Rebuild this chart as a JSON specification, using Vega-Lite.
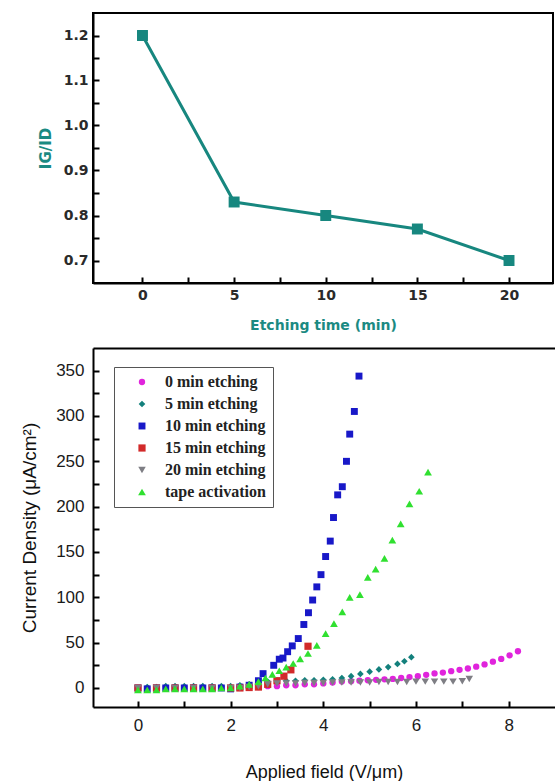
{
  "$schema": "https://vega.github.io/schema/vega-lite/v6.json",
  "padding": {"left": 20, "top": 12, "right": 0, "bottom": 0},
  "spacing": 15,
  "config": {
    "view": {"stroke": null},
    "axis": {"grid": false, "domainColor": "#000", "domainWidth": 2, "tickColor": "#000", "tickWidth": 2, "tickSize": -6, "labelColor": "#2a2a2a"},
    "legend": {"strokeColor": "#555"}
  },
  "datasets": {
    "ratio": [
      {"t": 0, "r": 1.2}, {"t": 5, "r": 0.83}, {"t": 10, "r": 0.8}, {"t": 15, "r": 0.77}, {"t": 20, "r": 0.7}
    ],
    "fe": [
      {"s": "0 min etching", "x": 0, "y": -1}, {"s": "0 min etching", "x": 0.2, "y": -1}, {"s": "0 min etching", "x": 0.4, "y": -1}, {"s": "0 min etching", "x": 0.6, "y": 0}, {"s": "0 min etching", "x": 0.8, "y": 0}, {"s": "0 min etching", "x": 1.0, "y": 0}, {"s": "0 min etching", "x": 1.2, "y": 0}, {"s": "0 min etching", "x": 1.4, "y": 0}, {"s": "0 min etching", "x": 1.6, "y": 0}, {"s": "0 min etching", "x": 1.8, "y": 0}, {"s": "0 min etching", "x": 2.0, "y": 0}, {"s": "0 min etching", "x": 2.2, "y": 1}, {"s": "0 min etching", "x": 2.4, "y": 1}, {"s": "0 min etching", "x": 2.6, "y": 1}, {"s": "0 min etching", "x": 2.8, "y": 2}, {"s": "0 min etching", "x": 3.0, "y": 2}, {"s": "0 min etching", "x": 3.2, "y": 3}, {"s": "0 min etching", "x": 3.4, "y": 3}, {"s": "0 min etching", "x": 3.6, "y": 4}, {"s": "0 min etching", "x": 3.8, "y": 4}, {"s": "0 min etching", "x": 4.0, "y": 5}, {"s": "0 min etching", "x": 4.2, "y": 6}, {"s": "0 min etching", "x": 4.4, "y": 7}, {"s": "0 min etching", "x": 4.6, "y": 7.5}, {"s": "0 min etching", "x": 4.78, "y": 8}, {"s": "0 min etching", "x": 4.96, "y": 8.5}, {"s": "0 min etching", "x": 5.14, "y": 9}, {"s": "0 min etching", "x": 5.32, "y": 9.5}, {"s": "0 min etching", "x": 5.5, "y": 10}, {"s": "0 min etching", "x": 5.68, "y": 11}, {"s": "0 min etching", "x": 5.86, "y": 12}, {"s": "0 min etching", "x": 6.04, "y": 13}, {"s": "0 min etching", "x": 6.22, "y": 14.5}, {"s": "0 min etching", "x": 6.4, "y": 16}, {"s": "0 min etching", "x": 6.58, "y": 17}, {"s": "0 min etching", "x": 6.76, "y": 18.5}, {"s": "0 min etching", "x": 6.94, "y": 20}, {"s": "0 min etching", "x": 7.12, "y": 21.5}, {"s": "0 min etching", "x": 7.3, "y": 23.5}, {"s": "0 min etching", "x": 7.48, "y": 26}, {"s": "0 min etching", "x": 7.66, "y": 29}, {"s": "0 min etching", "x": 7.84, "y": 32}, {"s": "0 min etching", "x": 8.02, "y": 36}, {"s": "0 min etching", "x": 8.2, "y": 40.5},

      {"s": "5 min etching", "x": 0, "y": 0}, {"s": "5 min etching", "x": 0.2, "y": 1}, {"s": "5 min etching", "x": 0.4, "y": 1}, {"s": "5 min etching", "x": 0.6, "y": 2}, {"s": "5 min etching", "x": 0.8, "y": 2}, {"s": "5 min etching", "x": 1.0, "y": 2}, {"s": "5 min etching", "x": 1.2, "y": 2}, {"s": "5 min etching", "x": 1.4, "y": 2}, {"s": "5 min etching", "x": 1.6, "y": 2}, {"s": "5 min etching", "x": 1.8, "y": 2}, {"s": "5 min etching", "x": 2.0, "y": 2}, {"s": "5 min etching", "x": 2.2, "y": 3}, {"s": "5 min etching", "x": 2.4, "y": 4}, {"s": "5 min etching", "x": 2.6, "y": 6}, {"s": "5 min etching", "x": 2.8, "y": 7}, {"s": "5 min etching", "x": 3.0, "y": 8}, {"s": "5 min etching", "x": 3.2, "y": 8}, {"s": "5 min etching", "x": 3.4, "y": 8}, {"s": "5 min etching", "x": 3.6, "y": 8.5}, {"s": "5 min etching", "x": 3.8, "y": 8.5}, {"s": "5 min etching", "x": 4.0, "y": 9}, {"s": "5 min etching", "x": 4.2, "y": 9.5}, {"s": "5 min etching", "x": 4.4, "y": 11}, {"s": "5 min etching", "x": 4.6, "y": 13}, {"s": "5 min etching", "x": 4.8, "y": 15.5}, {"s": "5 min etching", "x": 5.0, "y": 18}, {"s": "5 min etching", "x": 5.2, "y": 20.5}, {"s": "5 min etching", "x": 5.4, "y": 23}, {"s": "5 min etching", "x": 5.6, "y": 26.5}, {"s": "5 min etching", "x": 5.75, "y": 29.5}, {"s": "5 min etching", "x": 5.9, "y": 34},

      {"s": "10 min etching", "x": 0, "y": 0}, {"s": "10 min etching", "x": 0.2, "y": -1}, {"s": "10 min etching", "x": 0.4, "y": 0}, {"s": "10 min etching", "x": 0.6, "y": 0}, {"s": "10 min etching", "x": 0.8, "y": 0}, {"s": "10 min etching", "x": 1.0, "y": 0}, {"s": "10 min etching", "x": 1.2, "y": 0}, {"s": "10 min etching", "x": 1.4, "y": 0}, {"s": "10 min etching", "x": 1.6, "y": 0}, {"s": "10 min etching", "x": 1.8, "y": 0}, {"s": "10 min etching", "x": 2.0, "y": -1}, {"s": "10 min etching", "x": 2.2, "y": 1}, {"s": "10 min etching", "x": 2.4, "y": 3}, {"s": "10 min etching", "x": 2.6, "y": 8}, {"s": "10 min etching", "x": 2.7, "y": 15.8}, {"s": "10 min etching", "x": 2.93, "y": 25}, {"s": "10 min etching", "x": 3.05, "y": 31.7}, {"s": "10 min etching", "x": 3.13, "y": 33}, {"s": "10 min etching", "x": 3.23, "y": 40}, {"s": "10 min etching", "x": 3.33, "y": 46.4}, {"s": "10 min etching", "x": 3.46, "y": 54.5}, {"s": "10 min etching", "x": 3.58, "y": 70}, {"s": "10 min etching", "x": 3.68, "y": 83}, {"s": "10 min etching", "x": 3.77, "y": 97}, {"s": "10 min etching", "x": 3.86, "y": 111.5}, {"s": "10 min etching", "x": 3.95, "y": 125}, {"s": "10 min etching", "x": 4.05, "y": 145}, {"s": "10 min etching", "x": 4.15, "y": 162}, {"s": "10 min etching", "x": 4.22, "y": 188}, {"s": "10 min etching", "x": 4.31, "y": 213}, {"s": "10 min etching", "x": 4.41, "y": 222}, {"s": "10 min etching", "x": 4.5, "y": 250}, {"s": "10 min etching", "x": 4.57, "y": 280}, {"s": "10 min etching", "x": 4.67, "y": 305}, {"s": "10 min etching", "x": 4.77, "y": 344},

      {"s": "15 min etching", "x": 0, "y": 0}, {"s": "15 min etching", "x": 0.4, "y": 0}, {"s": "15 min etching", "x": 0.8, "y": 0}, {"s": "15 min etching", "x": 1.2, "y": 0}, {"s": "15 min etching", "x": 1.6, "y": 0}, {"s": "15 min etching", "x": 2.0, "y": 0}, {"s": "15 min etching", "x": 2.2, "y": 0}, {"s": "15 min etching", "x": 2.4, "y": 0.5}, {"s": "15 min etching", "x": 2.6, "y": 1}, {"s": "15 min etching", "x": 2.8, "y": 4}, {"s": "15 min etching", "x": 3.0, "y": 8}, {"s": "15 min etching", "x": 3.15, "y": 13}, {"s": "15 min etching", "x": 3.3, "y": 20}, {"s": "15 min etching", "x": 3.67, "y": 46},

      {"s": "20 min etching", "x": 0, "y": 0}, {"s": "20 min etching", "x": 0.4, "y": 0}, {"s": "20 min etching", "x": 0.8, "y": 0}, {"s": "20 min etching", "x": 1.2, "y": 0}, {"s": "20 min etching", "x": 1.6, "y": 0}, {"s": "20 min etching", "x": 2.0, "y": 0}, {"s": "20 min etching", "x": 2.2, "y": 0}, {"s": "20 min etching", "x": 2.4, "y": 1}, {"s": "20 min etching", "x": 2.6, "y": 2}, {"s": "20 min etching", "x": 2.8, "y": 4}, {"s": "20 min etching", "x": 3.0, "y": 5}, {"s": "20 min etching", "x": 3.2, "y": 5}, {"s": "20 min etching", "x": 3.4, "y": 5}, {"s": "20 min etching", "x": 3.6, "y": 5.5}, {"s": "20 min etching", "x": 3.8, "y": 5.5}, {"s": "20 min etching", "x": 4.0, "y": 5.5}, {"s": "20 min etching", "x": 4.2, "y": 6}, {"s": "20 min etching", "x": 4.4, "y": 6}, {"s": "20 min etching", "x": 4.6, "y": 6}, {"s": "20 min etching", "x": 4.8, "y": 6}, {"s": "20 min etching", "x": 5.0, "y": 6}, {"s": "20 min etching", "x": 5.2, "y": 6.5}, {"s": "20 min etching", "x": 5.4, "y": 6.5}, {"s": "20 min etching", "x": 5.6, "y": 6.5}, {"s": "20 min etching", "x": 5.8, "y": 6.5}, {"s": "20 min etching", "x": 6.0, "y": 7}, {"s": "20 min etching", "x": 6.2, "y": 7}, {"s": "20 min etching", "x": 6.4, "y": 7}, {"s": "20 min etching", "x": 6.6, "y": 7}, {"s": "20 min etching", "x": 6.8, "y": 7}, {"s": "20 min etching", "x": 7.0, "y": 7.5}, {"s": "20 min etching", "x": 7.15, "y": 10},

      {"s": "tape activation", "x": 0, "y": -2}, {"s": "tape activation", "x": 0.2, "y": -2}, {"s": "tape activation", "x": 0.4, "y": -2}, {"s": "tape activation", "x": 0.6, "y": -1}, {"s": "tape activation", "x": 0.8, "y": -1}, {"s": "tape activation", "x": 1.0, "y": -1}, {"s": "tape activation", "x": 1.2, "y": -1}, {"s": "tape activation", "x": 1.4, "y": -1}, {"s": "tape activation", "x": 1.6, "y": -1}, {"s": "tape activation", "x": 1.8, "y": 0}, {"s": "tape activation", "x": 2.0, "y": 0}, {"s": "tape activation", "x": 2.2, "y": 2}, {"s": "tape activation", "x": 2.4, "y": 4}, {"s": "tape activation", "x": 2.6, "y": 7}, {"s": "tape activation", "x": 2.75, "y": 11}, {"s": "tape activation", "x": 2.9, "y": 15}, {"s": "tape activation", "x": 3.05, "y": 19}, {"s": "tape activation", "x": 3.2, "y": 23}, {"s": "tape activation", "x": 3.35, "y": 27}, {"s": "tape activation", "x": 3.5, "y": 32}, {"s": "tape activation", "x": 3.67, "y": 38}, {"s": "tape activation", "x": 3.86, "y": 47}, {"s": "tape activation", "x": 4.05, "y": 60}, {"s": "tape activation", "x": 4.23, "y": 71}, {"s": "tape activation", "x": 4.41, "y": 84}, {"s": "tape activation", "x": 4.57, "y": 100}, {"s": "tape activation", "x": 4.79, "y": 103}, {"s": "tape activation", "x": 4.96, "y": 122}, {"s": "tape activation", "x": 5.13, "y": 131}, {"s": "tape activation", "x": 5.32, "y": 143}, {"s": "tape activation", "x": 5.49, "y": 163}, {"s": "tape activation", "x": 5.67, "y": 181}, {"s": "tape activation", "x": 5.86, "y": 203}, {"s": "tape activation", "x": 6.07, "y": 217}, {"s": "tape activation", "x": 6.26, "y": 238}
    ]
  },
  "vconcat": [
    {
      "width": 460,
      "height": 270,
      "view": {"stroke": "#000", "strokeWidth": 2},
      "data": {"name": "ratio"},
      "encoding": {
        "x": {"field": "t", "type": "quantitative", "scale": {"domain": [-2.7, 22.4], "nice": false, "zero": false},
          "axis": {"title": "Etching time (min)", "values": [0, 2.5, 5, 7.5, 10, 12.5, 15, 17.5, 20],
            "labelExpr": "datum.value % 5 === 0 ? datum.label : ''",
            "labelFont": "DejaVu Sans", "labelFontWeight": "bold", "labelFontSize": 14, "labelPadding": 11,
            "titleFont": "DejaVu Sans", "titleFontWeight": "bold", "titleFontSize": 14, "titleColor": "#1b8a82", "titlePadding": 16}},
        "y": {"field": "r", "type": "quantitative", "scale": {"domain": [0.65, 1.25], "nice": false, "zero": false},
          "axis": {"title": "IG/ID", "values": [0.7, 0.75, 0.8, 0.85, 0.9, 0.95, 1.0, 1.05, 1.1, 1.15, 1.2],
            "labelExpr": "abs(datum.value * 10 - round(datum.value * 10)) < 0.001 ? format(datum.value, '.1f') : ''",
            "labelFont": "DejaVu Sans", "labelFontWeight": "bold", "labelFontSize": 14, "labelPadding": 11,
            "titleFont": "DejaVu Sans", "titleFontWeight": "bold", "titleFontSize": 15, "titleColor": "#1b8a82", "titlePadding": 10}}
      },
      "layer": [
        {"mark": {"type": "line", "color": "#17877f", "strokeWidth": 3}},
        {"mark": {"type": "point", "shape": "square", "filled": true, "size": 120, "color": "#17877f", "opacity": 1}}
      ]
    },
    {
      "width": 462,
      "height": 359,
      "data": {"name": "fe"},
      "layer": [
        {
          "mark": {"type": "point", "filled": true, "opacity": 0},
          "encoding": {
            "x": {"field": "x", "type": "quantitative", "scale": {"domain": [-0.97, 9], "nice": false, "zero": false},
              "axis": {"orient": "top", "labels": false, "ticks": false, "title": null, "domain": true}}
          }
        },
        {
          "mark": {"type": "point", "filled": true, "opacity": 1},
          "encoding": {
            "x": {"field": "x", "type": "quantitative", "scale": {"domain": [-0.97, 9], "nice": false, "zero": false},
              "axis": {"orient": "bottom", "title": "Applied field (V/μm)", "values": [0, 1, 2, 3, 4, 5, 6, 7, 8],
                "labelExpr": "datum.value % 2 === 0 ? datum.label : ''",
                "labelFont": "Liberation Sans", "labelFontSize": 17, "labelPadding": 16, "labelColor": "#1a1a1a",
                "titleFont": "Liberation Sans", "titleFontWeight": "normal", "titleFontSize": 18, "titleColor": "#111", "titlePadding": 30}},
            "y": {"field": "y", "type": "quantitative", "scale": {"domain": [-21, 375], "nice": false, "zero": false},
              "axis": {"title": "Current Density (μA/cm²)", "values": [0, 25, 50, 75, 100, 125, 150, 175, 200, 225, 250, 275, 300, 325, 350],
                "labelExpr": "datum.value % 50 === 0 ? datum.label : ''",
                "labelFont": "Liberation Sans", "labelFontSize": 17, "labelPadding": 15, "labelColor": "#1a1a1a",
                "titleFont": "Liberation Sans", "titleFontWeight": "normal", "titleFontSize": 19, "titleColor": "#111", "titlePadding": 16}},
            "color": {"field": "s", "type": "nominal",
              "scale": {"domain": ["0 min etching", "5 min etching", "10 min etching", "15 min etching", "20 min etching", "tape activation"],
                "range": ["#e024dc", "#13807c", "#1818c8", "#d22a2a", "#7e7e84", "#30e030"]},
              "legend": {"title": null, "orient": "none", "legendX": 21, "legendY": 354, "padding": 7, "rowPadding": 6,
                "symbolOffset": 13, "labelOffset": 15, "symbolSize": 45, "symbolStrokeWidth": 0,
                "labelFont": "Liberation Serif", "labelFontWeight": "bold", "labelFontSize": 16, "labelColor": "#222",
                "strokeColor": "#555", "fillColor": "#fff"}},
            "shape": {"field": "s", "type": "nominal",
              "scale": {"domain": ["0 min etching", "5 min etching", "10 min etching", "15 min etching", "20 min etching", "tape activation"],
                "range": ["circle", "diamond", "square", "square", "triangle-down", "triangle-up"]},
              "legend": {"title": null, "orient": "none", "legendX": 21, "legendY": 354, "padding": 7, "rowPadding": 6,
                "symbolOffset": 13, "labelOffset": 15, "symbolSize": 45, "symbolStrokeWidth": 0,
                "labelFont": "Liberation Serif", "labelFontWeight": "bold", "labelFontSize": 16, "labelColor": "#222",
                "strokeColor": "#555", "fillColor": "#fff"}},
            "size": {"field": "s", "type": "ordinal",
              "scale": {"domain": ["0 min etching", "5 min etching", "10 min etching", "15 min etching", "20 min etching", "tape activation"],
                "range": [40, 60, 50, 50, 55, 75]},
              "legend": null}
          }
        }
      ],
      "resolve": {"axis": {"x": "independent"}}
    }
  ]
}
